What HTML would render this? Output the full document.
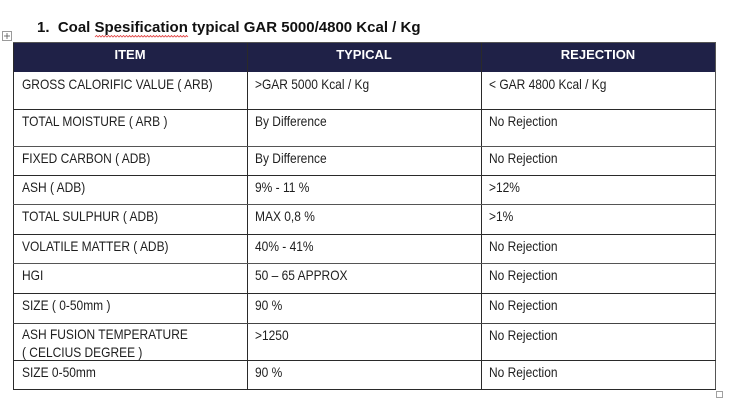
<!DOCTYPE html>
<html>
<head>
<meta charset="utf-8">
<style>
  html,body{margin:0;padding:0;background:#fff;}
  body{width:731px;height:409px;position:relative;overflow:hidden;font-family:"Liberation Sans",Arial,sans-serif;}
  .t{position:absolute;font-size:14px;color:#1e1e1e;line-height:17px;white-space:nowrap;transform:scaleX(0.855);transform-origin:0 0;}
  .h{position:absolute;font-size:13px;color:#fff;font-weight:bold;line-height:17px;text-align:center;}
  .hl{position:absolute;left:13px;width:703px;height:1px;background:#2a2a2a;}
  .vl{position:absolute;top:42px;height:348px;width:1px;background:#2a2a2a;}
</style>
</head>
<body>
<!-- title -->
<div style="position:absolute;left:37px;top:19px;font-size:15px;font-weight:bold;color:#111;line-height:18px;white-space:nowrap;">1.&nbsp;&nbsp;Coal Spesification typical GAR 5000/4800 Kcal / Kg</div>
<svg style="position:absolute;left:0;top:0" width="731" height="409">
  <polyline fill="none" stroke="#e04040" stroke-width="0.8" points="95,37 96.5,35.5 98,37 99.5,35.5 101,37 102.5,35.5 104,37 105.5,35.5 107,37 108.5,35.5 110,37 111.5,35.5 113,37 114.5,35.5 116,37 117.5,35.5 119,37 120.5,35.5 122,37 123.5,35.5 125,37 126.5,35.5 128,37 129.5,35.5 131,37 132.5,35.5 134,37 135.5,35.5 137,37 138.5,35.5 140,37 141.5,35.5 143,37 144.5,35.5 146,37 147.5,35.5 149,37 150.5,35.5 152,37 153.5,35.5 155,37 156.5,35.5 158,37 159.5,35.5 161,37 162.5,35.5 164,37 165.5,35.5 167,37 168.5,35.5 170,37 171.5,35.5 173,37 174.5,35.5 176,37 177.5,35.5 179,37 180.5,35.5 182,37 183.5,35.5 185,37 186.5,35.5 188,37"/>
  <!-- move handle -->
  <rect x="2.5" y="31.5" width="9" height="9" fill="#fff" stroke="#9a9a9a" stroke-width="1"/>
  <line x1="7" y1="33" x2="7" y2="39" stroke="#555" stroke-width="0.8"/>
  <line x1="4" y1="36" x2="10" y2="36" stroke="#555" stroke-width="0.8"/>
  <!-- resize square -->
  <rect x="716.5" y="391.5" width="6" height="6" fill="#fff" stroke="#a0a0a0" stroke-width="1"/>
</svg>

<!-- header bg -->
<div style="position:absolute;left:13px;top:42px;width:703px;height:30px;background:#1f2147;"></div>
<div class="h" style="left:13px;width:234px;top:46px;">ITEM</div>
<div class="h" style="left:247px;width:234px;top:46px;">TYPICAL</div>
<div class="h" style="left:481px;width:234px;top:46px;">REJECTION</div>

<!-- grid lines -->
<div class="vl" style="left:13px;"></div>
<div class="vl" style="left:247px;"></div>
<div class="vl" style="left:481px;"></div>
<div class="vl" style="left:715px;background:#555;"></div>
<div class="hl" style="top:42px;background:#555;"></div>
<div class="hl" style="top:109px;"></div>
<div class="hl" style="top:146px;background:#555;"></div>
<div class="hl" style="top:175px;"></div>
<div class="hl" style="top:204px;background:#555;"></div>
<div class="hl" style="top:234px;"></div>
<div class="hl" style="top:263px;background:#555;"></div>
<div class="hl" style="top:293px;"></div>
<div class="hl" style="top:323px;background:#444;"></div>
<div class="hl" style="top:360px;"></div>
<div class="hl" style="top:389px;"></div>

<!-- rows -->
<div class="t" style="left:22px;top:76px;">GROSS CALORIFIC VALUE ( ARB)</div>
<div class="t" style="left:255px;top:76px;">&gt;GAR 5000 Kcal / Kg</div>
<div class="t" style="left:489px;top:76px;">&lt; GAR 4800 Kcal / Kg</div>

<div class="t" style="left:22px;top:113px;">TOTAL MOISTURE ( ARB )</div>
<div class="t" style="left:255px;top:113px;">By Difference</div>
<div class="t" style="left:489px;top:113px;">No Rejection</div>

<div class="t" style="left:22px;top:150px;">FIXED CARBON ( ADB)</div>
<div class="t" style="left:255px;top:150px;">By Difference</div>
<div class="t" style="left:489px;top:150px;">No Rejection</div>

<div class="t" style="left:22px;top:179px;">ASH ( ADB)</div>
<div class="t" style="left:255px;top:179px;">9% - 11 %</div>
<div class="t" style="left:489px;top:179px;">&gt;12%</div>

<div class="t" style="left:22px;top:208px;">TOTAL SULPHUR ( ADB)</div>
<div class="t" style="left:255px;top:208px;">MAX 0,8 %</div>
<div class="t" style="left:489px;top:208px;">&gt;1%</div>

<div class="t" style="left:22px;top:238px;">VOLATILE MATTER ( ADB)</div>
<div class="t" style="left:255px;top:238px;">40% - 41%</div>
<div class="t" style="left:489px;top:238px;">No Rejection</div>

<div class="t" style="left:22px;top:267px;">HGI</div>
<div class="t" style="left:255px;top:267px;">50 – 65 APPROX</div>
<div class="t" style="left:489px;top:267px;">No Rejection</div>

<div class="t" style="left:22px;top:297px;">SIZE ( 0-50mm )</div>
<div class="t" style="left:255px;top:297px;">90 %</div>
<div class="t" style="left:489px;top:297px;">No Rejection</div>

<div class="t" style="left:22px;top:325px;line-height:18px;">ASH FUSION TEMPERATURE<br>( CELCIUS DEGREE )</div>
<div class="t" style="left:255px;top:327px;">&gt;1250</div>
<div class="t" style="left:489px;top:327px;">No Rejection</div>

<div class="t" style="left:22px;top:364px;">SIZE 0-50mm</div>
<div class="t" style="left:255px;top:364px;">90 %</div>
<div class="t" style="left:489px;top:364px;">No Rejection</div>
</body>
</html>
